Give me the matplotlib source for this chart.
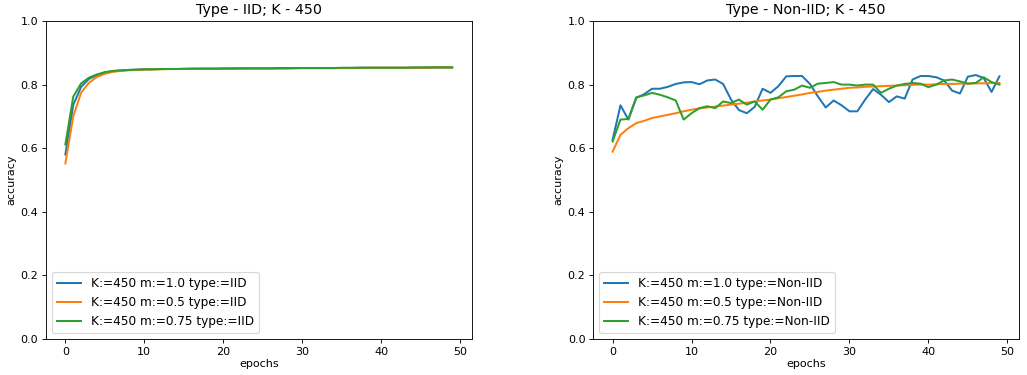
"""
plot.py

Accuracy per epoch for K=450, IID vs Non-IID.
"""
import numpy as np
import matplotlib
matplotlib.use("Agg")
import matplotlib.pyplot as plt

epochs = list(range(50))

# IID runs
iid_m10 = [0.58, 0.736, 0.793, 0.818, 0.830, 0.838, 0.842, 0.844, 0.846, 0.847,
           0.848, 0.848, 0.849, 0.849, 0.849, 0.849, 0.850, 0.850, 0.850, 0.850,
           0.850, 0.850, 0.851, 0.851, 0.851, 0.851, 0.851, 0.851, 0.851, 0.852,
           0.852, 0.852, 0.852, 0.852, 0.852, 0.852, 0.852, 0.853, 0.853, 0.853,
           0.853, 0.853, 0.853, 0.853, 0.853, 0.853, 0.854, 0.854, 0.854, 0.854]
iid_m05 = [0.552, 0.700, 0.775, 0.806, 0.824, 0.834, 0.840, 0.843, 0.845, 0.846,
           0.847, 0.848, 0.848, 0.849, 0.849, 0.849, 0.849, 0.850, 0.850, 0.850,
           0.850, 0.850, 0.850, 0.851, 0.851, 0.851, 0.851, 0.851, 0.851, 0.851,
           0.852, 0.852, 0.852, 0.852, 0.852, 0.852, 0.852, 0.852, 0.853, 0.853,
           0.853, 0.853, 0.853, 0.853, 0.853, 0.853, 0.853, 0.854, 0.854, 0.854]
iid_m075 = [0.612, 0.762, 0.804, 0.822, 0.832, 0.839, 0.843, 0.845, 0.846, 0.847,
            0.848, 0.848, 0.849, 0.849, 0.849, 0.850, 0.850, 0.850, 0.850, 0.850,
            0.851, 0.851, 0.851, 0.851, 0.851, 0.851, 0.851, 0.852, 0.852, 0.852,
            0.852, 0.852, 0.852, 0.852, 0.852, 0.853, 0.853, 0.853, 0.853, 0.853,
            0.853, 0.853, 0.853, 0.853, 0.854, 0.854, 0.854, 0.854, 0.854, 0.854]

# Non-IID runs
noniid_m10 = [0.626, 0.735, 0.690, 0.758, 0.770, 0.787, 0.787, 0.793, 0.802, 0.807,
              0.808, 0.801, 0.813, 0.816, 0.802, 0.753, 0.720, 0.710, 0.730, 0.787,
              0.774, 0.795, 0.826, 0.827, 0.827, 0.802, 0.763, 0.728, 0.750, 0.735,
              0.716, 0.716, 0.753, 0.786, 0.768, 0.745, 0.763, 0.756, 0.816, 0.827,
              0.827, 0.823, 0.813, 0.781, 0.772, 0.825, 0.830, 0.821, 0.777, 0.826]
noniid_m05 = [0.589, 0.642, 0.663, 0.679, 0.686, 0.695, 0.700, 0.705, 0.710, 0.716,
              0.721, 0.725, 0.728, 0.731, 0.734, 0.737, 0.740, 0.743, 0.747, 0.750,
              0.753, 0.757, 0.761, 0.765, 0.769, 0.774, 0.777, 0.781, 0.784, 0.787,
              0.790, 0.791, 0.793, 0.794, 0.795, 0.796, 0.797, 0.798, 0.799, 0.800,
              0.800, 0.801, 0.802, 0.802, 0.803, 0.803, 0.804, 0.804, 0.805, 0.805]
noniid_m075 = [0.621, 0.690, 0.692, 0.760, 0.766, 0.774, 0.768, 0.760, 0.750, 0.690,
               0.710, 0.726, 0.732, 0.726, 0.747, 0.742, 0.753, 0.737, 0.747, 0.721,
               0.753, 0.760, 0.779, 0.784, 0.797, 0.790, 0.803, 0.805, 0.808, 0.800,
               0.800, 0.797, 0.800, 0.800, 0.774, 0.787, 0.797, 0.802, 0.805, 0.803,
               0.792, 0.800, 0.813, 0.816, 0.810, 0.803, 0.805, 0.823, 0.808, 0.800]

panels = [
    ("Type - IID; K - 450", "IID", [iid_m10, iid_m05, iid_m075]),
    ("Type - Non-IID; K - 450", "Non-IID", [noniid_m10, noniid_m05, noniid_m075]),
]
m_values = ["1.0", "0.5", "0.75"]

fig, axes = plt.subplots(1, 2, figsize=(1027 / 80, 375 / 80), dpi=80)
fig.subplots_adjust(left=0.0448, right=0.992, top=0.944, bottom=0.096, wspace=0.286)

for ax, (title, kind, series) in zip(axes, panels):
    for m, acc in zip(m_values, series):
        ax.plot(epochs, acc, linewidth=1.8, label=f"K:=450 m:={m} type:={kind}")
    ax.set_ylim(0.0, 1.0)
    ax.set_title(title, fontsize=12.8)
    ax.set_xlabel("epochs", labelpad=2)
    ax.set_ylabel("accuracy")
    ax.legend(loc="lower left", fontsize=10.9)

fig.savefig("out.png", dpi=80)
plt.close(fig)
